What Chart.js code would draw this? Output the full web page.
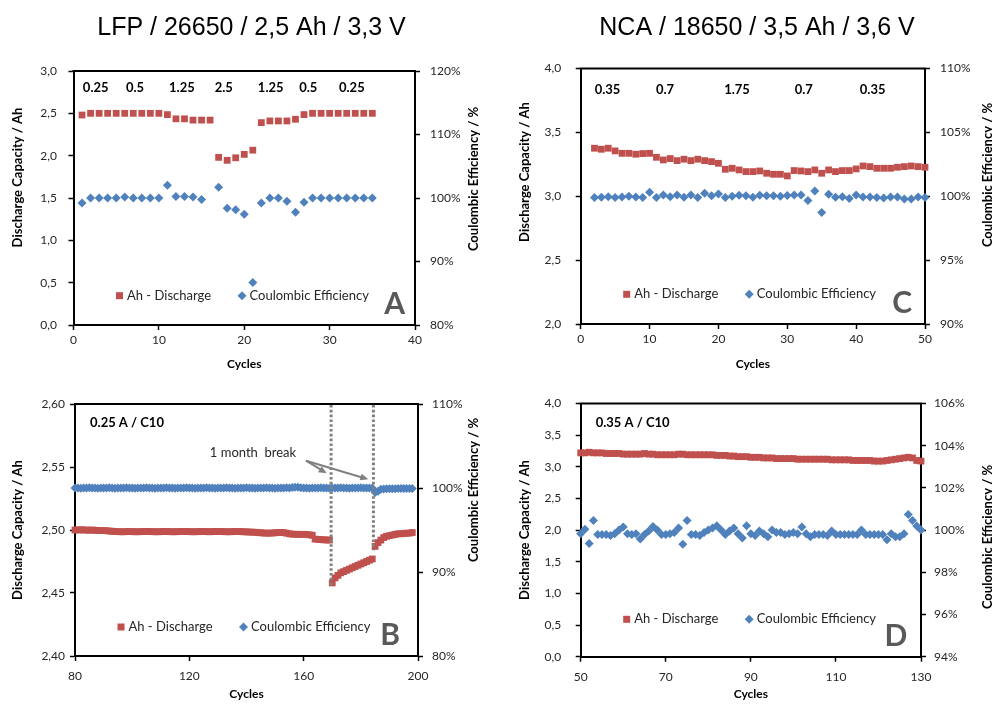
<!DOCTYPE html>
<html lang="en">
<head>
<meta charset="UTF-8">
<title>LFP / NCA cycling</title>
<script src="https://cdn.jsdelivr.net/npm/chart.js@4.4.7/dist/chart.umd.min.js"></script>
<style>
  html, body { margin: 0; padding: 0; background: #fff; width: 992px; height: 704px; overflow: hidden; }
  canvas { position: absolute; }
</style>
</head>
<body>
<canvas id="chartA" width="496" height="380" style="left:0;top:0"></canvas>
<canvas id="chartC" width="510" height="380" style="left:496px;top:0"></canvas>
<canvas id="chartB" width="496" height="324" style="left:0;top:380px"></canvas>
<canvas id="chartD" width="510" height="324" style="left:496px;top:380px"></canvas>
<script>
// ---- data ----

// A: LFP rate test, cycles 1..35
const firstCycleA = 1;
const capA = [2.48, 2.50, 2.50, 2.50, 2.50, 2.50, 2.50, 2.50, 2.50, 2.50,
              2.485, 2.435, 2.435, 2.42, 2.42, 2.42, 1.98, 1.945, 1.975, 2.015,
              2.065, 2.39, 2.41, 2.41, 2.41, 2.43, 2.485, 2.50, 2.50, 2.50,
              2.50, 2.50, 2.50, 2.50, 2.50];
const ceA = [99.2, 100.0, 100.0, 100.0, 100.0, 100.15, 100.0, 100.0, 100.0, 100.0,
             102.0, 100.25, 100.25, 100.15, 99.75, null, 101.7, 98.4, 98.15, 97.45,
             86.7, 99.2, 100.0, 100.0, 99.5, 97.75, 99.35, 100.0, 100.0, 100.0,
             100.0, 100.0, 100.0, 100.0, 100.0];
const rateLabelsA = ['0.25', '0.5', '1.25', '2.5', '1.25', '0.5', '0.25'];
const rateCyclesA = [2.6, 7.2, 12.7, 17.6, 23.1, 27.5, 32.6];

// C: NCA rate test, cycles 2..50
const firstCycleC = 2;
const capC = [3.376, 3.368, 3.376, 3.355, 3.336, 3.336, 3.329, 3.334, 3.336, 3.305,
              3.284, 3.295, 3.279, 3.290, 3.279, 3.290, 3.279, 3.271, 3.258, 3.211,
              3.219, 3.206, 3.193, 3.193, 3.198, 3.180, 3.172, 3.172, 3.159, 3.201,
              3.198, 3.193, 3.206, 3.180, 3.206, 3.193, 3.201, 3.201, 3.214, 3.237,
              3.232, 3.219, 3.219, 3.219, 3.227, 3.232, 3.237, 3.232, 3.227];
const ceC = [99.90, 99.92, 99.97, 99.90, 99.95, 100.0, 99.95, 99.90, 100.31, 99.90,
             100.10, 99.97, 100.10, 99.92, 100.10, 99.90, 100.23, 100.03, 100.18, 99.90,
             100.0, 100.08, 100.03, 99.92, 100.08, 100.03, 100.03, 100.0, 100.05, 100.10,
             100.10, 99.66, 100.42, 98.72, 100.16, 99.92, 99.97, 99.82, 100.10, 99.95,
             99.95, 99.90, 99.87, 99.95, 99.95, 99.79, 99.79, 99.95, 99.90];
const rateLabelsC = ['0.35', '0.7', '1.75', '0.7', '0.35'];
const rateCyclesC = [3.9, 12.25, 22.7, 32.4, 42.4];

// B: LFP long-term, cycles 80..198
const firstCycleB = 80;
const capB = [2.500, 2.500, 2.5002, 2.500, 2.500, 2.4998, 2.500, 2.4998, 2.4996, 2.4996,
              2.4995, 2.4994, 2.4992, 2.499, 2.4988, 2.4987, 2.4986, 2.4986, 2.4987, 2.4988,
              2.4987, 2.4986, 2.4986, 2.4987, 2.4988, 2.4989, 2.4988, 2.4987, 2.4986, 2.4986,
              2.4987, 2.4988, 2.4988, 2.4987, 2.4986, 2.4986, 2.4987, 2.4988, 2.4989, 2.4988,
              2.4987, 2.4986, 2.4986, 2.4987, 2.4988, 2.4988, 2.4987, 2.4986, 2.4987, 2.4988,
              2.4989, 2.4988, 2.4987, 2.4986, 2.4986, 2.4987, 2.4988, 2.4988, 2.4987, 2.4986,
              2.4985, 2.4984, 2.4983, 2.4982, 2.4980, 2.4978, 2.4976, 2.4975, 2.4975, 2.4976,
              2.4978, 2.4980, 2.4981, 2.4979, 2.4975, 2.4970, 2.4967, 2.4966, 2.4966, 2.4965,
              2.4966, 2.4964, 2.4962, 2.4958, 2.4928, 2.4925, 2.4924, 2.4922, 2.4921, 2.4920,
              2.458, 2.462, 2.464, 2.466, 2.467, 2.468, 2.469, 2.470, 2.471, 2.472,
              2.473, 2.474, 2.475, 2.476, 2.477, 2.487, 2.490, 2.492, 2.494, 2.495,
              2.4955, 2.496, 2.4965, 2.497, 2.497, 2.4972, 2.4975, 2.4975, 2.498];
const ceB = [100.0, 100.0, 99.98, 100.0, 100.0, 100.02, 100.0, 100.0, 99.98, 100.0,
             100.0, 100.0, 100.02, 100.0, 99.98, 100.0, 100.0, 100.0, 100.02, 100.0,
             100.0, 99.98, 100.0, 100.0, 100.0, 100.02, 100.0, 100.0, 99.98, 100.0,
             100.0, 100.0, 100.02, 100.0, 100.0, 99.98, 100.0, 100.0, 100.0, 100.02,
             100.0, 100.0, 99.98, 100.0, 100.0, 100.0, 100.02, 100.0, 100.0, 99.98,
             100.0, 100.0, 100.0, 100.02, 100.0, 100.0, 99.98, 100.0, 100.0, 100.0,
             100.02, 100.0, 100.0, 99.98, 100.0, 100.0, 100.0, 100.02, 100.0, 100.0,
             99.98, 100.0, 100.0, 100.0, 100.02, 100.0, 100.05, 100.08, 100.1, 100.02,
             100.0, 100.0, 99.98, 100.0, 100.0, 100.0, 100.02, 100.0, 100.0, 99.98,
             100.0, 100.0, 100.0, 100.02, 100.0, 100.0, 99.98, 100.0, 100.0, 100.0,
             100.02, 100.0, 100.0, 100.0, 100.0, 99.45, 99.6, 99.85, 99.88, 99.9,
             99.9, 99.92, 99.92, 99.93, 99.93, 99.95, 99.95, 99.95, 99.95];
const breakCyclesB = [169.6, 184.4];
const breakEndsB = [2.455, 2.484];

// D: NCA long-term, cycles 50..130
const firstCycleD = 50;
const capD = [3.22, 3.22, 3.23, 3.22, 3.22, 3.22, 3.21, 3.21, 3.21, 3.21,
              3.20, 3.20, 3.20, 3.20, 3.20, 3.21, 3.20, 3.20, 3.19, 3.19,
              3.19, 3.19, 3.19, 3.20, 3.20, 3.19, 3.19, 3.19, 3.19, 3.19,
              3.19, 3.19, 3.18, 3.18, 3.18, 3.17, 3.17, 3.16, 3.16, 3.16,
              3.15, 3.15, 3.15, 3.14, 3.14, 3.14, 3.13, 3.13, 3.13, 3.13,
              3.13, 3.12, 3.12, 3.12, 3.12, 3.12, 3.12, 3.12, 3.12, 3.11,
              3.11, 3.11, 3.11, 3.11, 3.10, 3.10, 3.10, 3.10, 3.10, 3.09,
              3.09, 3.09, 3.10, 3.11, 3.12, 3.13, 3.14, 3.15, 3.14, 3.10,
              3.09];
const ceD = [99.83, 100.04, 99.37, 100.46, 99.79, 99.79, 99.79, 99.75, 99.83, 100.0,
             100.15, 99.83, 99.79, 99.83, 99.58, 99.79, 99.96, 100.17, 100.0, 99.79,
             99.79, 99.83, 99.89, 100.1, 99.33, 100.46, 99.79, 99.79, 99.75, 99.89,
             100.0, 100.1, 100.21, 100.0, 99.79, 99.96, 100.1, 99.83, 99.62, 100.21,
             99.83, 99.75, 99.96, 99.83, 99.68, 100.0, 99.89, 99.89, 99.79, 99.83,
             99.89, 99.83, 100.15, 99.83, 99.68, 99.79, 99.79, 99.79, 99.75, 99.96,
             99.79, 99.79, 99.79, 99.79, 99.79, 99.79, 100.0, 99.79, 99.79, 99.79,
             99.79, 99.79, 99.54, 99.83, 99.68, 99.68, 99.83, 100.74, 100.46, 100.2,
             100.0];

// axis ticks
const xTicksA = [0, 10, 20, 30, 40];
const capTicksA = [0, 0.5, 1, 1.5, 2, 2.5, 3];
const ceTicksA = [80, 90, 100, 110, 120];
const xTicksC = [0, 10, 20, 30, 40, 50];
const capTicksC = [2, 2.5, 3, 3.5, 4];
const ceTicksC = [90, 95, 100, 105, 110];
const xTicksB = [80, 120, 160, 200];
const capTicksB = [2.40, 2.45, 2.50, 2.55, 2.60];
const ceTicksB = [80, 90, 100, 110];
const xTicksD = [50, 70, 90, 110, 130];
const capTicksD = [0, 0.5, 1, 1.5, 2, 2.5, 3, 3.5, 4];
const ceTicksD = [94, 96, 98, 100, 102, 104, 106];

// ---- drawing ----
const RED = '#C0504D';
const BLUE = '#4F81BD';
const FONT = 'Lato, "Open Sans", sans-serif';
const TEXT = '#262626';

function toPoints(first, values) {
    return values.map((v, i) => ({ x: first + i, y: v }));
}

function arrow(ctx, x0, y0, x1, y1) {
    const ang = Math.atan2(y1 - y0, x1 - x0);
    const len = 8, half = 3.5;
    ctx.beginPath();
    ctx.moveTo(x0, y0);
    ctx.lineTo(x1 - Math.cos(ang) * len * 0.8, y1 - Math.sin(ang) * len * 0.8);
    ctx.stroke();
    ctx.beginPath();
    ctx.moveTo(x1, y1);
    ctx.lineTo(x1 - Math.cos(ang) * len - Math.sin(ang) * half, y1 - Math.sin(ang) * len + Math.cos(ang) * half);
    ctx.lineTo(x1 - Math.cos(ang) * len + Math.sin(ang) * half, y1 - Math.sin(ang) * len - Math.cos(ang) * half);
    ctx.closePath();
    ctx.fill();
}

// frame, titles, legend, labels etc. drawn on top of each panel
const panelDecor = {
    id: 'panelDecor',
    afterDraw(chart, args, o) {
        const { ctx, chartArea: a, scales } = chart;
        ctx.save();

        // top edge of the plot box
        ctx.strokeStyle = '#000';
        ctx.lineWidth = 2;
        ctx.beginPath();
        ctx.moveTo(a.left - 1, a.top);
        ctx.lineTo(a.right + 1, a.top);
        ctx.stroke();

        if (o.title) {
            ctx.font = '25px "Liberation Sans", Arial, sans-serif';
            ctx.fillStyle = '#000';
            ctx.textAlign = 'center';
            ctx.textBaseline = 'alphabetic';
            ctx.fillText(o.title, o.titleX, 35);
        }

        // axis titles (both read bottom to top)
        ctx.font = 'bold 13px ' + FONT;
        ctx.fillStyle = '#000';
        ctx.textAlign = 'center';
        ctx.textBaseline = 'middle';
        [['Discharge Capacity / Ah', o.leftTitle], ['Coulombic Efficiency / %', o.rightTitle]].forEach(([t, p]) => {
            ctx.save();
            ctx.translate(p[0], p[1]);
            ctx.rotate(-Math.PI / 2);
            ctx.fillText(t, 0, 0);
            ctx.restore();
        });

        // C-rate labels
        if (o.rates) {
            ctx.font = 'bold 13px ' + FONT;
            ctx.fillStyle = '#000';
            o.rates.labels.forEach((t, i) => {
                ctx.fillText(t, scales.x.getPixelForValue(o.rates.cycles[i]), a.top + o.rates.dy);
            });
        }

        // note in upper left
        if (o.note) {
            ctx.font = 'bold 13px ' + FONT;
            ctx.fillStyle = '#000';
            ctx.textAlign = 'left';
            ctx.fillText(o.note, a.left + 15, a.top + 19);
        }

        // legend
        const ly = a.bottom - o.legendDy;
        ctx.fillStyle = RED;
        ctx.fillRect(a.left + 46 - 3.5, ly - 3.5, 7, 7);
        ctx.fillStyle = BLUE;
        ctx.beginPath();
        ctx.moveTo(a.left + 168.5 - 4.5, ly);
        ctx.lineTo(a.left + 168.5, ly - 4.5);
        ctx.lineTo(a.left + 168.5 + 4.5, ly);
        ctx.lineTo(a.left + 168.5, ly + 4.5);
        ctx.closePath();
        ctx.fill();
        ctx.font = '13px ' + FONT;
        ctx.fillStyle = TEXT;
        ctx.textAlign = 'left';
        ctx.fillText('Ah - Discharge', a.left + 53.5, ly);
        ctx.fillText('Coulombic Efficiency', a.left + 176, ly);

        // panel letter
        ctx.font = 'bold 30px ' + FONT;
        ctx.fillStyle = '#595959';
        ctx.textAlign = 'right';
        ctx.textBaseline = 'alphabetic';
        ctx.fillText(o.letter, a.right - o.letterDx, a.bottom - 11);

        // rest break markers
        if (o.breaks) {
            ctx.strokeStyle = '#808080';
            ctx.lineWidth = 3;
            ctx.setLineDash([2.6, 2.2]);
            o.breaks.cycles.forEach((c, i) => {
                const x = scales.x.getPixelForValue(c);
                ctx.beginPath();
                ctx.moveTo(x, a.top + 1);
                ctx.lineTo(x, scales.y.getPixelForValue(o.breaks.ends[i]));
                ctx.stroke();
            });
            ctx.setLineDash([]);
            ctx.font = '13px ' + FONT;
            ctx.fillStyle = TEXT;
            ctx.textAlign = 'center';
            ctx.textBaseline = 'middle';
            ctx.fillText('1 month  break', a.left + 178, a.top + 49);
            ctx.strokeStyle = '#808080';
            ctx.fillStyle = '#808080';
            ctx.lineWidth = 2;
            arrow(ctx, a.left + 231, a.top + 56.7, a.left + 251.7, a.top + 69.3);
            arrow(ctx, a.left + 231, a.top + 56.7, a.left + 293.3, a.top + 75.3);
        }
        ctx.restore();
    }
};

function axisBase(ticksArr, pad) {
    return {
        type: 'linear',
        min: ticksArr[0],
        max: ticksArr[ticksArr.length - 1],
        afterBuildTicks: s => { s.ticks = ticksArr.map(v => ({ value: v })); },
        grid: { drawOnChartArea: false, drawTicks: true, tickLength: 5, tickColor: '#000', tickWidth: 1.5, color: '#000' },
        border: { color: '#000', width: 2 },
        ticks: { font: { family: FONT, size: 12 }, color: TEXT, padding: pad, autoSkip: false, maxRotation: 0 }
    };
}

function makePanel(id, p) {
    const x = axisBase(p.xTicks, p.xPad);
    x.afterFit = s => { s.height = p.xAxisH; };
    x.title = { display: true, text: 'Cycles', color: '#000', font: { family: FONT, size: 12, weight: 'bold' }, padding: { top: 0, bottom: p.cyclesPad } };

    const y = axisBase(p.capTicks, p.leftPad);
    y.position = 'left';
    y.afterFit = s => { s.width = p.leftW; };
    y.ticks.callback = v => v.toFixed(p.capDec).replace('.', ',');

    const y1 = axisBase(p.ceTicks, p.rightPad);
    y1.position = 'right';
    y1.afterFit = s => { s.width = p.rightW; };
    y1.ticks.callback = v => Math.round(v) + '%';

    return new Chart(document.getElementById(id), {
        type: 'scatter',
        data: {
            datasets: [{
                label: 'Ah - Discharge',
                data: toPoints(p.first, p.cap),
                yAxisID: 'y',
                pointStyle: 'rect',
                pointRadius: 4.8,
                backgroundColor: RED,
                borderColor: RED,
                borderWidth: 0,
                clip: false
            }, {
                label: 'Coulombic Efficiency',
                data: toPoints(p.first, p.ce),
                yAxisID: 'y1',
                pointStyle: 'rectRot',
                pointRadius: 4.5,
                backgroundColor: BLUE,
                borderColor: BLUE,
                borderWidth: 0,
                clip: false
            }]
        },
        options: {
            responsive: false,
            animation: false,
            devicePixelRatio: 1,
            layout: { padding: { top: p.top, left: 0, right: 0, bottom: 0 } },
            plugins: { legend: { display: false }, tooltip: { enabled: false }, panelDecor: p.decor },
            scales: { x: x, y: y, y1: y1 }
        },
        plugins: [panelDecor]
    });
}

makePanel('chartA', {
    first: firstCycleA, cap: capA, ce: ceA,
    xTicks: xTicksA, capTicks: capTicksA, ceTicks: ceTicksA, capDec: 1,
    top: 71, leftW: 73.5, rightW: 81, xAxisH: 55,
    xPad: 3, leftPad: 11.5, rightPad: 10, cyclesPad: 8.8,
    decor: {
        title: 'LFP / 26650 / 2,5 Ah / 3,3 V', titleX: 251.5,
        leftTitle: [18, 177.5], rightTitle: [474, 179],
        rates: { labels: rateLabelsA, cycles: rateCyclesA, dy: 17.3 },
        legendDy: 29.3, letter: 'A', letterDx: 10
    }
});

makePanel('chartC', {
    first: firstCycleC, cap: capC, ce: ceC,
    xTicks: xTicksC, capTicks: capTicksC, ceTicks: ceTicksC, capDec: 1,
    top: 68.5, leftW: 84.7, rightW: 81, xAxisH: 56,
    xPad: 3, leftPad: 14.5, rightPad: 10, cyclesPad: 8.8,
    decor: {
        title: 'NCA / 18650 / 3,5 Ah / 3,6 V', titleX: 261,
        leftTitle: [29, 172], rightTitle: [492, 175],
        rates: { labels: rateLabelsC, cycles: rateCyclesC, dy: 21.5 },
        legendDy: 29.7, letter: 'C', letterDx: 13
    }
});

makePanel('chartB', {
    first: firstCycleB, cap: capB, ce: ceB,
    xTicks: xTicksB, capTicks: capTicksB, ceTicks: ceTicksB, capDec: 2,
    top: 24, leftW: 75, rightW: 78, xAxisH: 48,
    xPad: 8, leftPad: 5, rightPad: 9, cyclesPad: 2.8,
    decor: {
        leftTitle: [18, 150], rightTitle: [474, 110],
        note: '0.25 A / C10',
        breaks: { cycles: breakCyclesB, ends: breakEndsB },
        legendDy: 29, letter: 'B', letterDx: 18
    }
});

makePanel('chartD', {
    first: firstCycleD, cap: capD, ce: ceD,
    xTicks: xTicksD, capTicks: capTicksD, ceTicks: ceTicksD, capDec: 1,
    top: 23.5, leftW: 84.7, rightW: 85, xAxisH: 47.3,
    xPad: 8, leftPad: 14.5, rightPad: 8, cyclesPad: 2.8,
    decor: {
        leftTitle: [29, 150], rightTitle: [492, 157],
        note: '0.35 A / C10',
        legendDy: 37.4, letter: 'D', letterDx: 13.7
    }
});
</script>
</body>
</html>
